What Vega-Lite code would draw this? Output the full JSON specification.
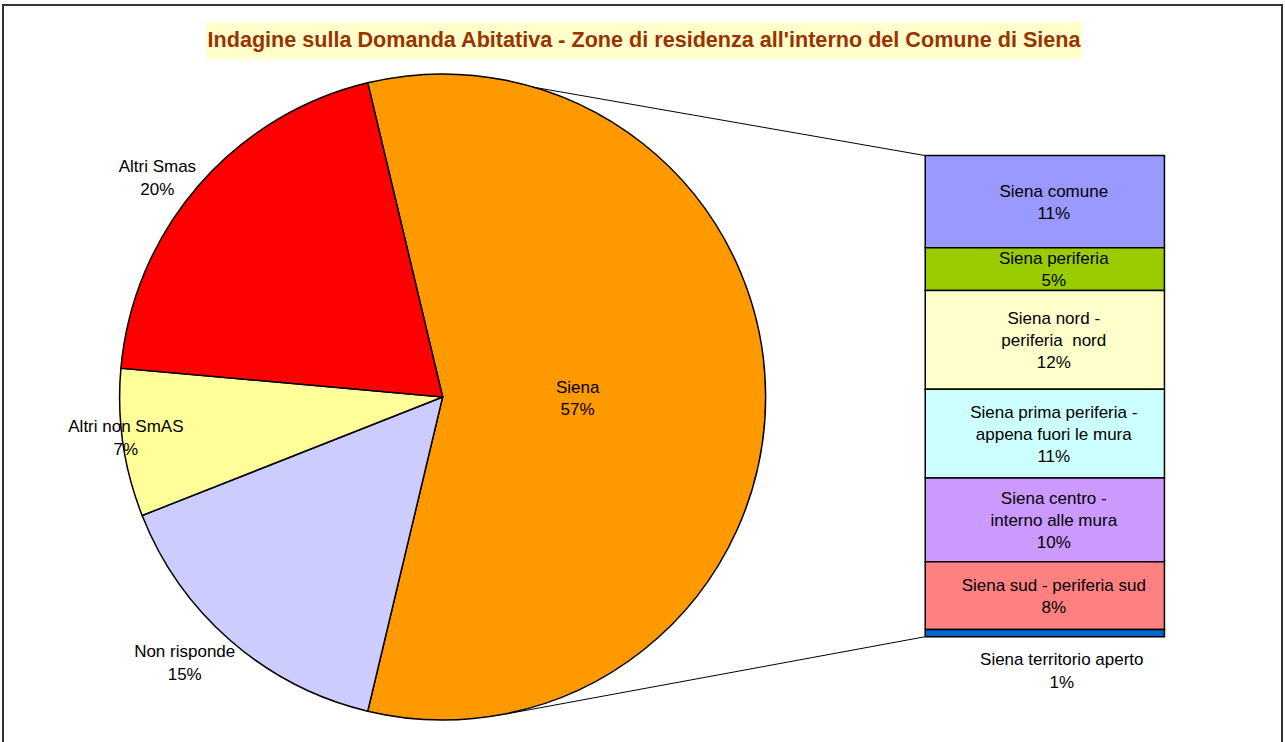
{
  "$schema": "https://vega.github.io/schema/vega-lite/v6.json",
  "width": 1285,
  "height": 742,
  "autosize": {"type": "fit", "contains": "padding"},
  "padding": {"left": 3, "top": 5, "right": 3, "bottom": -2},
  "background": "white",
  "config": {
    "view": {"stroke": "#333333", "strokeWidth": 2},
    "text": {"font": "Liberation Sans", "fontSize": 17, "color": "#000000"}
  },
  "datasets": {
    "torta": [
      {"Zona": "Siena", "quota": 0.5745},
      {"Zona": "Non risponde", "quota": 0.153},
      {"Zona": "Altri non SmAS", "quota": 0.074},
      {"Zona": "Altri Smas", "quota": 0.1985}
    ],
    "barra": [
      {"Zona": "Siena comune", "r1": "Siena comune", "quota": 0.110},
      {"Zona": "Siena periferia", "r1": "Siena periferia", "quota": 0.051},
      {"Zona": "Siena nord - periferia  nord", "r1": "Siena nord -", "r2": "periferia\u00a0 nord", "quota": 0.118},
      {"Zona": "Siena prima periferia - appena fuori le mura", "r1": "Siena prima periferia -", "r2": "appena fuori le mura", "quota": 0.106},
      {"Zona": "Siena centro - interno alle mura", "r1": "Siena centro -", "r2": "interno alle mura", "quota": 0.100},
      {"Zona": "Siena sud - periferia sud", "r1": "Siena sud - periferia sud", "quota": 0.081},
      {"Zona": "Siena territorio aperto", "r1": "Siena territorio aperto", "quota": 0.0085}
    ]
  },
  "layer": [
    {
      "data": {"values": [{}]},
      "mark": {"type": "rect", "fill": "#FFFFCC"},
      "encoding": {
        "x": {"datum": 15.64, "type": "quantitative", "scale": {"domain": [0, 100], "nice": false, "zero": false}, "axis": null},
        "x2": {"datum": 84.6},
        "y": {"datum": 0.7339, "type": "quantitative", "scale": {"domain": [-0.1281, 0.7543], "nice": false, "zero": false}, "axis": null},
        "y2": {"datum": 0.6897}
      }
    },
    {
      "data": {"values": [{}]},
      "mark": {"type": "text", "fontWeight": "bold", "fontSize": 21.6, "color": "#993300", "align": "center", "baseline": "middle"},
      "encoding": {
        "x": {"datum": 50.12, "type": "quantitative", "scale": {"domain": [0, 100], "nice": false, "zero": false}, "axis": null},
        "y": {"datum": 0.7113, "type": "quantitative", "scale": {"domain": [-0.1281, 0.7543], "nice": false, "zero": false}, "axis": null},
        "text": {"value": "Indagine sulla Domanda Abitativa - Zone di residenza all'interno del Comune di Siena"}
      }
    },
    {
      "data": {"values": [{}]},
      "mark": {"type": "rule", "color": "#000000", "strokeWidth": 1},
      "encoding": {
        "x": {"datum": 72.28, "type": "quantitative", "scale": {"domain": [0, 100], "nice": false, "zero": false}, "axis": null},
        "y": {"datum": 0.5745, "type": "quantitative", "scale": {"domain": [-0.1281, 0.7543], "nice": false, "zero": false}, "axis": null},
        "x2": {"datum": 37.29},
        "y2": {"datum": 0.6671}
      }
    },
    {
      "data": {"values": [{}]},
      "mark": {"type": "rule", "color": "#000000", "strokeWidth": 1},
      "encoding": {
        "x": {"datum": 72.28, "type": "quantitative", "scale": {"domain": [0, 100], "nice": false, "zero": false}, "axis": null},
        "y": {"datum": 0, "type": "quantitative", "scale": {"domain": [-0.1281, 0.7543], "nice": false, "zero": false}, "axis": null},
        "x2": {"datum": 39.25},
        "y2": {"datum": -0.0923}
      }
    },
    {
      "data": {"name": "torta"},
      "mark": {"type": "arc", "outerRadius": 323, "stroke": "#000000", "strokeWidth": 1.5},
      "encoding": {
        "x": {"datum": 34.25, "type": "quantitative", "scale": {"domain": [0, 100], "nice": false, "zero": false}, "axis": null},
        "y": {"datum": 0.2862, "type": "quantitative", "scale": {"domain": [-0.1281, 0.7543], "nice": false, "zero": false}, "axis": null},
        "theta": {"field": "quota", "type": "quantitative", "stack": true, "scale": {"domain": [0, 1], "range": [-0.23405, 6.04914]}},
        "order": {"field": "Zona", "sort": "descending"},
        "color": {
          "field": "Zona", "type": "nominal", "legend": null,
          "scale": {
            "domain": ["Siena", "Non risponde", "Altri non SmAS", "Altri Smas", "Siena comune", "Siena periferia", "Siena nord - periferia  nord", "Siena prima periferia - appena fuori le mura", "Siena centro - interno alle mura", "Siena sud - periferia sud", "Siena territorio aperto"],
            "range": ["#FF9900", "#CCCCFF", "#FFFF99", "#FF0000", "#9999FF", "#99CC00", "#FFFFCC", "#CCFFFF", "#CC99FF", "#FF8080", "#0066CC"]
          }
        }
      }
    },
    {
      "data": {"name": "torta"},
      "mark": {"type": "text", "radius": 135, "dy": -9, "align": "center", "baseline": "middle"},
      "encoding": {
        "x": {"datum": 34.25, "type": "quantitative", "scale": {"domain": [0, 100], "nice": false, "zero": false}, "axis": null},
        "y": {"datum": 0.2862, "type": "quantitative", "scale": {"domain": [-0.1281, 0.7543], "nice": false, "zero": false}, "axis": null},
        "theta": {"field": "quota", "type": "quantitative", "stack": true, "scale": {"domain": [0, 1], "range": [-0.23405, 6.04914]}},
        "order": {"field": "Zona", "sort": "descending"},
        "detail": {"field": "Zona", "type": "nominal"},
        "text": {"condition": {"test": "datum.Zona === 'Siena'", "field": "Zona", "type": "nominal"}, "value": ""}
      }
    },
    {
      "data": {"name": "torta"},
      "mark": {"type": "text", "radius": 135, "dy": 13, "align": "center", "baseline": "middle"},
      "encoding": {
        "x": {"datum": 34.25, "type": "quantitative", "scale": {"domain": [0, 100], "nice": false, "zero": false}, "axis": null},
        "y": {"datum": 0.2862, "type": "quantitative", "scale": {"domain": [-0.1281, 0.7543], "nice": false, "zero": false}, "axis": null},
        "theta": {"field": "quota", "type": "quantitative", "stack": true, "scale": {"domain": [0, 1], "range": [-0.23405, 6.04914]}},
        "order": {"field": "Zona", "sort": "descending"},
        "detail": {"field": "Zona", "type": "nominal"},
        "text": {"condition": {"test": "datum.Zona === 'Siena'", "field": "quota", "type": "quantitative", "format": ".0%"}, "value": ""}
      }
    },
    {
      "data": {"name": "torta"},
      "mark": {"type": "text", "radius": 360, "dx": -13, "dy": 5, "align": "center", "baseline": "middle"},
      "encoding": {
        "x": {"datum": 34.25, "type": "quantitative", "scale": {"domain": [0, 100], "nice": false, "zero": false}, "axis": null},
        "y": {"datum": 0.2862, "type": "quantitative", "scale": {"domain": [-0.1281, 0.7543], "nice": false, "zero": false}, "axis": null},
        "theta": {"field": "quota", "type": "quantitative", "stack": true, "scale": {"domain": [0, 1], "range": [-0.23405, 6.04914]}},
        "order": {"field": "Zona", "sort": "descending"},
        "detail": {"field": "Zona", "type": "nominal"},
        "text": {"condition": {"test": "datum.Zona === 'Altri Smas'", "field": "Zona", "type": "nominal"}, "value": ""}
      }
    },
    {
      "data": {"name": "torta"},
      "mark": {"type": "text", "radius": 360, "dx": -13, "dy": 28, "align": "center", "baseline": "middle"},
      "encoding": {
        "x": {"datum": 34.25, "type": "quantitative", "scale": {"domain": [0, 100], "nice": false, "zero": false}, "axis": null},
        "y": {"datum": 0.2862, "type": "quantitative", "scale": {"domain": [-0.1281, 0.7543], "nice": false, "zero": false}, "axis": null},
        "theta": {"field": "quota", "type": "quantitative", "stack": true, "scale": {"domain": [0, 1], "range": [-0.23405, 6.04914]}},
        "order": {"field": "Zona", "sort": "descending"},
        "detail": {"field": "Zona", "type": "nominal"},
        "text": {"condition": {"test": "datum.Zona === 'Altri Smas'", "field": "quota", "type": "quantitative", "format": ".0%"}, "value": ""}
      }
    },
    {
      "data": {"name": "torta"},
      "mark": {"type": "text", "radius": 320, "dy": -16, "align": "center", "baseline": "middle"},
      "encoding": {
        "x": {"datum": 34.25, "type": "quantitative", "scale": {"domain": [0, 100], "nice": false, "zero": false}, "axis": null},
        "y": {"datum": 0.2862, "type": "quantitative", "scale": {"domain": [-0.1281, 0.7543], "nice": false, "zero": false}, "axis": null},
        "theta": {"field": "quota", "type": "quantitative", "stack": true, "scale": {"domain": [0, 1], "range": [-0.23405, 6.04914]}},
        "order": {"field": "Zona", "sort": "descending"},
        "detail": {"field": "Zona", "type": "nominal"},
        "text": {"condition": {"test": "datum.Zona === 'Altri non SmAS'", "field": "Zona", "type": "nominal"}, "value": ""}
      }
    },
    {
      "data": {"name": "torta"},
      "mark": {"type": "text", "radius": 320, "dy": 7, "align": "center", "baseline": "middle"},
      "encoding": {
        "x": {"datum": 34.25, "type": "quantitative", "scale": {"domain": [0, 100], "nice": false, "zero": false}, "axis": null},
        "y": {"datum": 0.2862, "type": "quantitative", "scale": {"domain": [-0.1281, 0.7543], "nice": false, "zero": false}, "axis": null},
        "theta": {"field": "quota", "type": "quantitative", "stack": true, "scale": {"domain": [0, 1], "range": [-0.23405, 6.04914]}},
        "order": {"field": "Zona", "sort": "descending"},
        "detail": {"field": "Zona", "type": "nominal"},
        "text": {"condition": {"test": "datum.Zona === 'Altri non SmAS'", "field": "quota", "type": "quantitative", "format": ".0%"}, "value": ""}
      }
    },
    {
      "data": {"name": "torta"},
      "mark": {"type": "text", "radius": 360, "dx": -22, "dy": -17, "align": "center", "baseline": "middle"},
      "encoding": {
        "x": {"datum": 34.25, "type": "quantitative", "scale": {"domain": [0, 100], "nice": false, "zero": false}, "axis": null},
        "y": {"datum": 0.2862, "type": "quantitative", "scale": {"domain": [-0.1281, 0.7543], "nice": false, "zero": false}, "axis": null},
        "theta": {"field": "quota", "type": "quantitative", "stack": true, "scale": {"domain": [0, 1], "range": [-0.23405, 6.04914]}},
        "order": {"field": "Zona", "sort": "descending"},
        "detail": {"field": "Zona", "type": "nominal"},
        "text": {"condition": {"test": "datum.Zona === 'Non risponde'", "field": "Zona", "type": "nominal"}, "value": ""}
      }
    },
    {
      "data": {"name": "torta"},
      "mark": {"type": "text", "radius": 360, "dx": -22, "dy": 6, "align": "center", "baseline": "middle"},
      "encoding": {
        "x": {"datum": 34.25, "type": "quantitative", "scale": {"domain": [0, 100], "nice": false, "zero": false}, "axis": null},
        "y": {"datum": 0.2862, "type": "quantitative", "scale": {"domain": [-0.1281, 0.7543], "nice": false, "zero": false}, "axis": null},
        "theta": {"field": "quota", "type": "quantitative", "stack": true, "scale": {"domain": [0, 1], "range": [-0.23405, 6.04914]}},
        "order": {"field": "Zona", "sort": "descending"},
        "detail": {"field": "Zona", "type": "nominal"},
        "text": {"condition": {"test": "datum.Zona === 'Non risponde'", "field": "quota", "type": "quantitative", "format": ".0%"}, "value": ""}
      }
    },
    {
      "data": {"name": "barra"},
      "transform": [{"window": [{"op": "row_number", "as": "i"}]}],
      "mark": {"type": "bar", "orient": "vertical", "stroke": "#000000", "strokeWidth": 1.5},
      "encoding": {
        "x": {"datum": 72.28, "type": "quantitative", "scale": {"domain": [0, 100], "nice": false, "zero": false}, "axis": null},
        "x2": {"datum": 91.13},
        "y": {"field": "quota", "type": "quantitative", "stack": "zero", "scale": {"domain": [-0.1281, 0.7543], "nice": false, "zero": false}, "axis": null},
        "order": {"field": "i", "type": "quantitative", "sort": "descending"},
        "color": {"field": "Zona", "type": "nominal", "legend": null}
      }
    },
    {
      "data": {"name": "barra"},
      "transform": [{"window": [{"op": "row_number", "as": "i"}]}],
      "mark": {"type": "text", "dx": 9, "dy": -10, "align": "center", "baseline": "middle"},
      "encoding": {
        "x": {"datum": 81.7, "type": "quantitative", "scale": {"domain": [0, 100], "nice": false, "zero": false}, "axis": null},
        "y": {"field": "quota", "type": "quantitative", "stack": "zero", "bandPosition": 0.5, "scale": {"domain": [-0.1281, 0.7543], "nice": false, "zero": false}, "axis": null},
        "order": {"field": "i", "type": "quantitative", "sort": "descending"},
        "detail": {"field": "Zona", "type": "nominal"},
        "text": {"condition": {"test": "!isValid(datum.r2) && datum.Zona !== 'Siena territorio aperto'", "field": "r1", "type": "nominal"}, "value": ""}
      }
    },
    {
      "data": {"name": "barra"},
      "transform": [{"window": [{"op": "row_number", "as": "i"}]}],
      "mark": {"type": "text", "dx": 9, "dy": 12, "align": "center", "baseline": "middle"},
      "encoding": {
        "x": {"datum": 81.7, "type": "quantitative", "scale": {"domain": [0, 100], "nice": false, "zero": false}, "axis": null},
        "y": {"field": "quota", "type": "quantitative", "stack": "zero", "bandPosition": 0.5, "scale": {"domain": [-0.1281, 0.7543], "nice": false, "zero": false}, "axis": null},
        "order": {"field": "i", "type": "quantitative", "sort": "descending"},
        "detail": {"field": "Zona", "type": "nominal"},
        "text": {"condition": {"test": "!isValid(datum.r2) && datum.Zona !== 'Siena territorio aperto'", "field": "quota", "type": "quantitative", "format": ".0%"}, "value": ""}
      }
    },
    {
      "data": {"name": "barra"},
      "transform": [{"window": [{"op": "row_number", "as": "i"}]}],
      "mark": {"type": "text", "dx": 9, "dy": -21, "align": "center", "baseline": "middle"},
      "encoding": {
        "x": {"datum": 81.7, "type": "quantitative", "scale": {"domain": [0, 100], "nice": false, "zero": false}, "axis": null},
        "y": {"field": "quota", "type": "quantitative", "stack": "zero", "bandPosition": 0.5, "scale": {"domain": [-0.1281, 0.7543], "nice": false, "zero": false}, "axis": null},
        "order": {"field": "i", "type": "quantitative", "sort": "descending"},
        "detail": {"field": "Zona", "type": "nominal"},
        "text": {"condition": {"test": "isValid(datum.r2)", "field": "r1", "type": "nominal"}, "value": ""}
      }
    },
    {
      "data": {"name": "barra"},
      "transform": [{"window": [{"op": "row_number", "as": "i"}]}],
      "mark": {"type": "text", "dx": 9, "dy": 1, "align": "center", "baseline": "middle"},
      "encoding": {
        "x": {"datum": 81.7, "type": "quantitative", "scale": {"domain": [0, 100], "nice": false, "zero": false}, "axis": null},
        "y": {"field": "quota", "type": "quantitative", "stack": "zero", "bandPosition": 0.5, "scale": {"domain": [-0.1281, 0.7543], "nice": false, "zero": false}, "axis": null},
        "order": {"field": "i", "type": "quantitative", "sort": "descending"},
        "detail": {"field": "Zona", "type": "nominal"},
        "text": {"condition": {"test": "isValid(datum.r2)", "field": "r2", "type": "nominal"}, "value": ""}
      }
    },
    {
      "data": {"name": "barra"},
      "transform": [{"window": [{"op": "row_number", "as": "i"}]}],
      "mark": {"type": "text", "dx": 9, "dy": 23, "align": "center", "baseline": "middle"},
      "encoding": {
        "x": {"datum": 81.7, "type": "quantitative", "scale": {"domain": [0, 100], "nice": false, "zero": false}, "axis": null},
        "y": {"field": "quota", "type": "quantitative", "stack": "zero", "bandPosition": 0.5, "scale": {"domain": [-0.1281, 0.7543], "nice": false, "zero": false}, "axis": null},
        "order": {"field": "i", "type": "quantitative", "sort": "descending"},
        "detail": {"field": "Zona", "type": "nominal"},
        "text": {"condition": {"test": "isValid(datum.r2)", "field": "quota", "type": "quantitative", "format": ".0%"}, "value": ""}
      }
    },
    {
      "data": {"name": "barra"},
      "transform": [{"window": [{"op": "row_number", "as": "i"}]}],
      "mark": {"type": "text", "dx": 17, "dy": 27, "align": "center", "baseline": "middle"},
      "encoding": {
        "x": {"datum": 81.7, "type": "quantitative", "scale": {"domain": [0, 100], "nice": false, "zero": false}, "axis": null},
        "y": {"field": "quota", "type": "quantitative", "stack": "zero", "bandPosition": 0.5, "scale": {"domain": [-0.1281, 0.7543], "nice": false, "zero": false}, "axis": null},
        "order": {"field": "i", "type": "quantitative", "sort": "descending"},
        "detail": {"field": "Zona", "type": "nominal"},
        "text": {"condition": {"test": "datum.Zona === 'Siena territorio aperto'", "field": "r1", "type": "nominal"}, "value": ""}
      }
    },
    {
      "data": {"name": "barra"},
      "transform": [{"window": [{"op": "row_number", "as": "i"}]}],
      "mark": {"type": "text", "dx": 17, "dy": 50, "align": "center", "baseline": "middle"},
      "encoding": {
        "x": {"datum": 81.7, "type": "quantitative", "scale": {"domain": [0, 100], "nice": false, "zero": false}, "axis": null},
        "y": {"field": "quota", "type": "quantitative", "stack": "zero", "bandPosition": 0.5, "scale": {"domain": [-0.1281, 0.7543], "nice": false, "zero": false}, "axis": null},
        "order": {"field": "i", "type": "quantitative", "sort": "descending"},
        "detail": {"field": "Zona", "type": "nominal"},
        "text": {"condition": {"test": "datum.Zona === 'Siena territorio aperto'", "field": "quota", "type": "quantitative", "format": ".0%"}, "value": ""}
      }
    }
  ]
}
